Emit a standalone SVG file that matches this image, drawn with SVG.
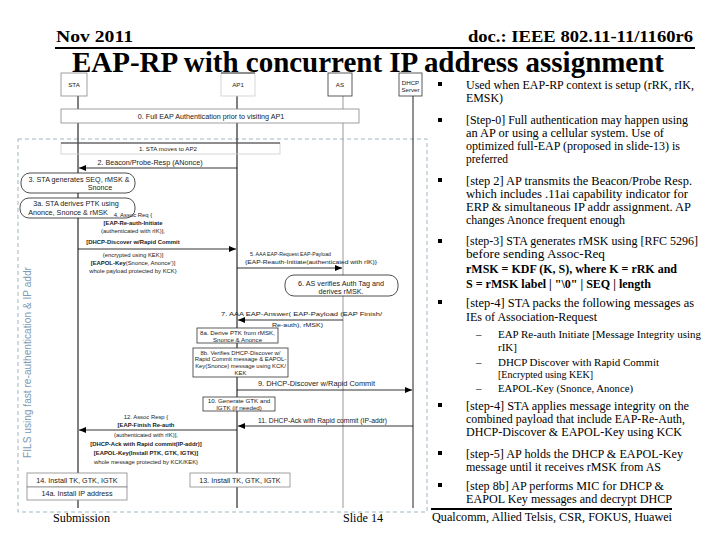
<svg xmlns="http://www.w3.org/2000/svg" width="720" height="540" viewBox="0 0 720 540">
<defs>
<marker id="ah" markerUnits="userSpaceOnUse" markerWidth="7" markerHeight="6" refX="7" refY="3" orient="auto"><path d="M0,0 L7,3 L0,6 z" fill="#000"/></marker>
<style>
.hd{font-family:"Liberation Serif","Times New Roman",serif;font-weight:bold;fill:#000}
.bt{font-family:"Liberation Serif","Times New Roman",serif;font-size:12px;fill:#000}
.sb{font-family:"Liberation Serif","Times New Roman",serif;font-size:11px;fill:#000}
.s{font-family:"Liberation Sans",Arial,sans-serif;font-size:7.2px;fill:#1a1a1a}
.m{font-family:"Liberation Sans",Arial,sans-serif;font-size:6.2px;fill:#1a1a1a}
.t{font-family:"Liberation Sans",Arial,sans-serif;font-size:5.9px;fill:#1a1a1a}
.c{text-anchor:middle}
.b{font-weight:bold}
.box{fill:#fff;stroke:#333;stroke-width:0.8}
.gbox{fill:#fff;stroke:#888;stroke-width:0.8}
.cloud{fill:#fff;stroke:#222;stroke-width:0.8}
.msg{stroke:#000;stroke-width:0.8;fill:none;marker-end:url(#ah)}
.bul{fill:#000}
</style>
</defs>
<rect width="720" height="540" fill="#fff"/>

<g id="header">
<text class="hd" x="56" y="42" font-size="17" textLength="77" lengthAdjust="spacingAndGlyphs">Nov 2011</text>
<text class="hd" x="468" y="42" font-size="17" textLength="225" lengthAdjust="spacingAndGlyphs">doc.: IEEE 802.11-11/1160r6</text>
<line x1="55" y1="48" x2="695" y2="48" stroke="#000" stroke-width="2"/>
<text class="hd" x="72" y="72" font-size="29" textLength="592" lengthAdjust="spacingAndGlyphs">EAP-RP with concurrent IP address assignment</text>
</g>

<g id="region">
<rect x="18" y="139" width="409" height="373" fill="none" stroke="#9fb7c4" stroke-width="1" stroke-dasharray="4,3"/>
<text transform="translate(31,458) rotate(-90)" font-family="Liberation Sans, Arial, sans-serif" font-size="10" fill="#7b9bb5" textLength="191" lengthAdjust="spacingAndGlyphs">FILS using fast re-authentication &amp; IP addr</text>
</g>

<g id="lifelines">
<line x1="78" y1="96" x2="78" y2="508" stroke="#000" stroke-width="1"/>
<line x1="237" y1="96" x2="237" y2="508" stroke="#000" stroke-width="1"/>
<line x1="343" y1="96" x2="343" y2="508" stroke="#999" stroke-width="1"/>
<line x1="413" y1="96" x2="413" y2="508" stroke="#222" stroke-width="1"/>
</g>

<g id="sta"><rect class="gbox" x="61" y="73" width="26" height="23"/><text class="m c" x="74" y="86.5">STA</text></g>
<g id="ap1"><rect x="221" y="73" width="34" height="23" fill="#fff" stroke="#ccc" stroke-width="0.8"/><line x1="221" y1="73" x2="255" y2="73" stroke="#000" stroke-width="0.8"/><text class="m c" x="238" y="86.5">AP1</text></g>
<g id="as"><rect class="box" x="328" y="73" width="24" height="23"/><text class="m c" x="340" y="86.5">AS</text></g>
<g id="dhcp"><rect class="box" x="399" y="73" width="23" height="23"/><text class="m c" x="410.5" y="84.5">DHCP</text><text class="m c" x="410.5" y="92">Server</text></g>

<g id="step0"><rect class="gbox" x="61" y="109" width="298" height="14"/><text class="s c" x="211" y="118.5">0. Full EAP Authentication prior to visiting AP1</text></g>
<g id="step1"><rect x="61" y="143" width="219" height="11" fill="none" stroke="#ccc" stroke-width="0.8"/><line x1="61" y1="143" x2="280" y2="143" stroke="#000" stroke-width="0.8"/><text class="m c" x="168" y="151">1. STA moves to AP2</text></g>
<g id="step3"><rect class="cloud" x="21" y="173" width="114" height="20" rx="9" ry="9"/><text class="s c" x="79" y="181.5">3. STA generates SEQ, rMSK &amp;</text><text class="s c" x="100" y="190">Snonce</text></g>
<g id="step3a"><rect class="cloud" x="20" y="198" width="115" height="20" rx="9" ry="9"/><text class="s c" x="76" y="206">3a. STA derives PTK using</text><text class="s c" x="68" y="214.5">Anonce, Snonce &amp; rMSK</text></g>
<g id="step6"><rect class="cloud" x="285" y="275" width="113" height="21" rx="9" ry="9"/><text class="s c" x="341" y="286">6. AS verifies Auth Tag and</text><text class="s c" x="341" y="293.5">derives rMSK.</text></g>
<g id="step8a"><rect class="box" x="197" y="328" width="81" height="15"/><text class="m c" x="237.5" y="334.5">8a. Derive PTK from rMSK,</text><text class="m c" x="237.5" y="341.5">Snonce &amp; Anonce</text></g>
<g id="step8b"><rect class="box" x="193" y="348" width="95" height="29"/><text class="t c" x="240.5" y="354.5">8b. Verifies DHCP-Discover w/</text><text class="t c" x="240.5" y="361">Rapid Commit message &amp; EAPOL-</text><text class="t c" x="240.5" y="367.5">Key(Snonce) message using KCK/</text><text class="t c" x="240.5" y="374.5">KEK</text></g>
<g id="step10"><rect class="box" x="203" y="397" width="72" height="14"/><text class="m c" x="239" y="402.5">10. Generate GTK and</text><text class="m c" x="239" y="409.5">IGTK (if needed)</text></g>
<g id="step13"><rect class="gbox" x="190" y="473" width="100" height="14"/><text class="s c" x="240" y="482.5">13. Install TK, GTK, IGTK</text></g>
<g id="step14"><rect class="gbox" x="27" y="473" width="100" height="14"/><text class="s c" x="77" y="482.5">14. Install TK, GTK, IGTK</text></g>
<g id="step14a"><rect class="gbox" x="27" y="487" width="100" height="13"/><text class="s c" x="77" y="496">14a. Install IP address</text></g>

<g id="connectors">
<line class="msg" x1="237" y1="168" x2="79" y2="168"/>
<line class="msg" x1="78" y1="249" x2="236" y2="249"/>
<line class="msg" x1="237" y1="268" x2="342" y2="268"/>
<line class="msg" x1="343" y1="320" x2="238" y2="320"/>
<line class="msg" x1="237" y1="390" x2="412" y2="390"/>
<line class="msg" x1="413" y1="426" x2="238" y2="426"/>
<line class="msg" x1="237" y1="430" x2="79" y2="430"/>
</g>

<g id="labels">
<text class="s c" x="150" y="164.5">2. Beacon/Probe-Resp (ANonce)</text>
<text class="t c" x="133" y="217">4. Assoc Req {</text>
<text class="t c b" x="133" y="225">[EAP-Re-auth-Initiate</text>
<text class="t c" x="133" y="233">(authenticated with rIK)],</text>
<text class="t c b" x="133" y="244">[DHCP-Discover w/Rapid Commit</text>
<text class="t c" x="133" y="257">(encrypted using KEK)]</text>
<text class="t c" x="133" y="265"><tspan class="b">[EAPOL-Key</tspan>(Snonce, Anonce')]</text>
<text class="t c" x="133" y="273">whole payload protected by KCK}</text>
<text class="m" x="250" y="256" textLength="81" lengthAdjust="spacingAndGlyphs">5. AAA EAP-Request EAP-Payload</text>
<text class="m" x="245" y="263.5" textLength="132" lengthAdjust="spacingAndGlyphs">{EAP-Reauth-Initiate(authenticated with rIK)}</text>
<text class="m" x="221" y="315.5" textLength="161" lengthAdjust="spacingAndGlyphs">7. AAA EAP-Answer( EAP-Payload (EAP Finish/</text>
<text class="m" x="272" y="326.5" textLength="51" lengthAdjust="spacingAndGlyphs">Re-auth), rMSK)</text>
<text class="s" x="258" y="386" textLength="117" lengthAdjust="spacingAndGlyphs">9. DHCP-Discover w/Rapid Commit</text>
<text class="s" x="258" y="423" textLength="129" lengthAdjust="spacingAndGlyphs">11. DHCP-Ack with Rapid commit (IP-addr)</text>
<text class="t c" x="146" y="419">12. Assoc Resp {</text>
<text class="t c b" x="146" y="427">[EAP-Finish Re-auth</text>
<text class="t c" x="146" y="437">(authenticated with rIK)],</text>
<text class="t c b" x="146" y="446">[DHCP-Ack with Rapid commit(IP-addr)]</text>
<text class="t c b" x="146" y="455">[EAPOL-Key(Install PTK, GTK, IGTK)]</text>
<text class="t c" x="146" y="464">whole message protected by KCK/KEK}</text>
</g>

<g id="bullets">
<rect class="bul" x="438" y="82" width="4" height="4"/>
<rect class="bul" x="438" y="118" width="4" height="4"/>
<rect class="bul" x="438" y="178" width="4" height="4"/>
<rect class="bul" x="438" y="239" width="4" height="4"/>
<rect class="bul" x="438" y="300" width="4" height="4"/>
<rect class="bul" x="438" y="403" width="4" height="4"/>
<rect class="bul" x="438" y="451" width="4" height="4"/>
<rect class="bul" x="438" y="483" width="4" height="4"/>
<text class="bt" x="466" y="88.5" textLength="228" lengthAdjust="spacingAndGlyphs">Used when EAP-RP context is setup (rRK, rIK,</text>
<text class="bt" x="466" y="102" textLength="37" lengthAdjust="spacingAndGlyphs">EMSK)</text>
<text class="bt" x="466" y="124" textLength="222" lengthAdjust="spacingAndGlyphs">[Step-0] Full authentication may happen using</text>
<text class="bt" x="466" y="137" textLength="198" lengthAdjust="spacingAndGlyphs">an AP or using a cellular system. Use of</text>
<text class="bt" x="466" y="150" textLength="214" lengthAdjust="spacingAndGlyphs">optimized full-EAP (proposed in slide-13) is</text>
<text class="bt" x="466" y="163" textLength="42" lengthAdjust="spacingAndGlyphs">preferred</text>
<text class="bt" x="466" y="184.5" textLength="226" lengthAdjust="spacingAndGlyphs">[step 2] AP transmits the Beacon/Probe Resp.</text>
<text class="bt" x="466" y="197.5" textLength="222" lengthAdjust="spacingAndGlyphs">which includes .11ai capability indicator for</text>
<text class="bt" x="466" y="210.5" textLength="225" lengthAdjust="spacingAndGlyphs">ERP &amp; simultaneous IP addr assignment. AP</text>
<text class="bt" x="466" y="223.5" textLength="159" lengthAdjust="spacingAndGlyphs">changes Anonce frequent enough</text>
<text class="bt" x="466" y="245" textLength="232" lengthAdjust="spacingAndGlyphs">[step-3] STA generates rMSK using [RFC 5296]</text>
<text class="bt" x="466" y="258" textLength="139" lengthAdjust="spacingAndGlyphs">before sending Assoc-Req</text>
<text class="bt" x="466" y="272.5" font-weight="bold" textLength="211" lengthAdjust="spacingAndGlyphs">rMSK = KDF (K, S), where K = rRK and</text>
<text class="bt" x="466" y="287.5" font-weight="bold" textLength="185" lengthAdjust="spacingAndGlyphs">S = rMSK label | "\0" | SEQ | length</text>
<text class="bt" x="466" y="306.5" textLength="228" lengthAdjust="spacingAndGlyphs">[step-4] STA packs the following  messages as</text>
<text class="bt" x="466" y="320.5" textLength="131" lengthAdjust="spacingAndGlyphs">IEs of Association-Request</text>
<text class="sb" x="476" y="338">–</text>
<text class="sb" x="498" y="338" textLength="203" lengthAdjust="spacingAndGlyphs">EAP Re-auth Initiate [Message Integrity using</text>
<text class="sb" x="498" y="351">rIK]</text>
<text class="sb" x="476" y="366">–</text>
<text class="sb" x="498" y="366" textLength="161" lengthAdjust="spacingAndGlyphs">DHCP Discover with Rapid Commit</text>
<text class="sb" x="498" y="378" textLength="95" lengthAdjust="spacingAndGlyphs">[Encrypted using KEK]</text>
<text class="sb" x="476" y="392">–</text>
<text class="sb" x="498" y="392" textLength="135" lengthAdjust="spacingAndGlyphs">EAPOL-Key (Snonce, Anonce)</text>
<text class="bt" x="466" y="409.5" textLength="223" lengthAdjust="spacingAndGlyphs">[step-4] STA applies message integrity on the</text>
<text class="bt" x="466" y="422.5" textLength="219" lengthAdjust="spacingAndGlyphs">combined payload that include EAP-Re-Auth,</text>
<text class="bt" x="466" y="436" textLength="216" lengthAdjust="spacingAndGlyphs">DHCP-Discover &amp; EAPOL-Key using KCK</text>
<text class="bt" x="466" y="457.5" textLength="217" lengthAdjust="spacingAndGlyphs">[step-5] AP holds the DHCP &amp; EAPOL-Key</text>
<text class="bt" x="466" y="470.5" textLength="195" lengthAdjust="spacingAndGlyphs">message until it receives rMSK from AS</text>
<text class="bt" x="466" y="489.5" textLength="198" lengthAdjust="spacingAndGlyphs">[step 8b] AP performs MIC for DHCP &amp;</text>
<text class="bt" x="466" y="502.5" textLength="206" lengthAdjust="spacingAndGlyphs">EAPOL Key messages and decrypt DHCP</text>
</g>

<g id="footer">
<line x1="431" y1="509" x2="672" y2="509" stroke="#000" stroke-width="2"/>
<text class="bt" x="53" y="522" font-size="13" textLength="57" lengthAdjust="spacingAndGlyphs">Submission</text>
<text class="bt" x="343" y="522" font-size="13" textLength="40" lengthAdjust="spacingAndGlyphs">Slide 14</text>
<text class="bt" x="432" y="521" font-size="13" textLength="240" lengthAdjust="spacingAndGlyphs">Qualcomm, Allied Telsis, CSR, FOKUS, Huawei</text>
</g>
</svg>
